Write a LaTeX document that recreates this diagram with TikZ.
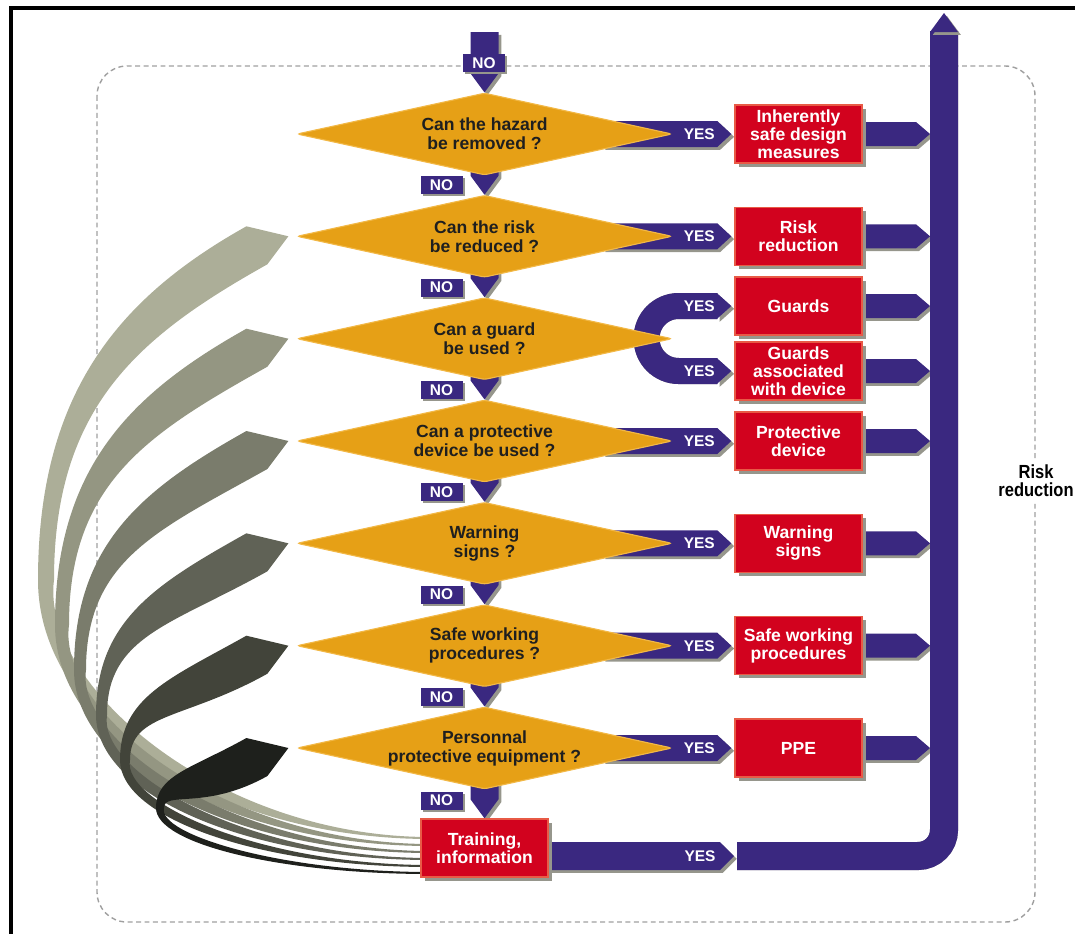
\documentclass[tikz,border=0pt]{standalone}
\usepackage{fontspec}
\setmainfont{Liberation Sans}
\newfontfamily\condfont[FakeStretch=0.87]{Liberation Sans}
\usetikzlibrary{shapes.geometric,calc,shadows,backgrounds}

\definecolor{diaorange}{RGB}{230,160,22}
\definecolor{diaedge}{RGB}{242,184,70}
\definecolor{bandpurple}{RGB}{58,40,128}
\definecolor{boxred}{RGB}{210,2,30}
\definecolor{boxedge}{RGB}{232,90,70}
\definecolor{shadowgrey}{RGB}{150,150,140}
\definecolor{grey2}{RGB}{172,174,152}
\definecolor{grey3}{RGB}{148,150,130}
\definecolor{grey4}{RGB}{122,124,108}
\definecolor{grey5}{RGB}{96,98,86}
\definecolor{grey6}{RGB}{66,68,58}
\definecolor{grey7}{RGB}{30,32,28}

\tikzset{
  dia/.style={diamond, aspect=4.57, minimum width=9.375cm, minimum height=2.05cm,
    inner sep=0pt, fill=diaorange, draw=diaedge, line width=0.8pt, rounded corners=2pt,
    align=center, text=black!88, font=\fontsize{12.5}{13.5}\selectfont\bfseries},
  redbox/.style={rectangle, minimum width=3.175cm, minimum height=1.45cm, inner sep=0pt,
    fill=boxred, draw=boxedge, line width=1pt, align=center, text=white,
    font=\fontsize{12.5}{12.8}\selectfont\bfseries,
    drop shadow={shadow xshift=2.5pt, shadow yshift=-2.5pt, fill=shadowgrey, opacity=1}},
  nolbl/.style={rectangle, minimum width=1.05cm, minimum height=0.45cm, inner sep=0pt,
    fill=bandpurple, text=white, font=\fontsize{11}{11}\selectfont\bfseries,
    drop shadow={shadow xshift=1.5pt, shadow yshift=-1.5pt, fill=shadowgrey, opacity=1}},
  yeslbl/.style={inner sep=0pt, text=white, font=\fontsize{11}{11}\selectfont\bfseries},
  risklbl/.style={fill=white, inner sep=3pt, align=center,
    font=\condfont\bfseries\fontsize{13.5}{12.8}\selectfont},
  band/.style={fill=bandpurple,
    drop shadow={shadow xshift=2pt, shadow yshift=-2pt, fill=shadowgrey, opacity=1}},
  framebox/.style={draw=gray!75, line width=1pt, dash pattern=on 3.5pt off 2.5pt,
    rounded corners=0.75cm},
}

\newcommand\noband[2]{%
  \fill[band] ($(#1)+(-14,-10)$) -- ($(#1)+(14,-10)$) -- ($(#2)+(14,-19)$) -- (#2)
    -- ($(#2)+(-14,-19)$) -- cycle;}
\newcommand\yesband[2]{%
  \fill[band] ($(#1.east)+(-70,-13)$) -- ($(#2.west)+(-17,-13)$) -- ($(#2.west)+(-3,0)$)
    -- ($(#2.west)+(-17,13)$) -- ($(#1.east)+(-70,13)$) -- cycle;}
\newcommand\outband[1]{%
  \fill[band] ($(#1.east)+(-2,-12)$) -- ($(#1.east -| bar)+(-28,-12)$)
    -- ($(#1.east -| bar)+(-14,0)$) -- ($(#1.east -| bar)+(-28,12)$)
    -- ($(#1.east)+(-2,12)$) -- cycle;}

\begin{document}
\begin{tikzpicture}[x=0.025cm, y=-0.025cm]
\useasboundingbox (0,0) rectangle (1075,934);

% frame
\draw[line width=3pt] (1075,8) -- (11,8) -- (11,934);

% questions
\node[dia] (d1) at (484.5,134) {Can the hazard\\be removed ?};
\node[dia] (d2) at (484.5,236.3) {Can the risk\\be reduced ?};
\node[dia] (d3) at (484.5,338.7) {Can a guard\\be used ?};
\node[dia] (d4) at (484.5,441) {Can a protective\\device be used ?};
\node[dia] (d5) at (484.5,543.3) {Warning\\signs ?};
\node[dia] (d6) at (484.5,645.7) {Safe working\\procedures ?};
\node[dia] (d7) at (484.5,748) {Personnal\\protective equipment ?};

% measures
\node[redbox] (r1) at (798.5,134) {Inherently\\safe design\\measures};
\node[redbox] (r2) at (798.5,236.3) {Risk\\reduction};
\node[redbox] (r3) at (798.5,306) {Guards};
\node[redbox] (r4) at (798.5,371) {Guards\\associated\\with device};
\node[redbox] (r5) at (798.5,441) {Protective\\device};
\node[redbox] (r6) at (798.5,543.3) {Warning\\signs};
\node[redbox] (r7) at (798.5,645.7) {Safe working\\procedures};
\node[redbox] (r8) at (798.5,748) {PPE};
\node[redbox] (train) at (484.5,848) {Training,\\information};

\node[risklbl] (risk) at (1036,481) {Risk\\reduction};

\coordinate (entry) at (484.5,42);
\coordinate (bar) at (944,13);
\coordinate (barbot) at (944,856);
\coordinate (barstart) at (737,856);

% labels
\node[nolbl] (no0) at (484,63) {NO};
\foreach \i [evaluate=\i as \j using int(\i+1)] in {1,...,6}
  \node[nolbl] (no\i) at ($(d\i.south)!0.5!(d\j.north)+(-43,0)$) {NO};
\node[nolbl] (no7) at ($(d7.south)+(-43,11)$) {NO};
\foreach \i in {1,...,8}
  \node[yeslbl] (yes\i) at ($(r\i.west)+(-35,0)$) {YES};
\node[yeslbl] (yes9) at ($(barstart)+(-37,0)$) {YES};

\begin{pgfonlayer}{background}
\draw[framebox] (97,66) rectangle (1035,922);

% loops back to the questions
\foreach \k/\xl/\yl/\w/\off/\col in {2/38/580/16/-10/grey2, 3/55/625/14/-3/grey3,
    4/74/670/12/4/grey4, 5/96/715/11/11/grey5, 6/120/760/10/18/grey6, 7/156/808/8/25/grey7}{
  \pgfmathsetmacro\yk{134+102.33*(\k-1)}
  \pgfmathsetmacro\da{0.6*(247-\xl)}
  \pgfmathsetmacro\db{0.55*(\yl-\yk)}
  \pgfmathsetmacro\dc{0.55*(848+\off-\yl)}
  \pgfmathsetmacro\dd{0.55*(430-\xl)}
  \pgfmathsetmacro\dap{0.6*(268-\xl-\w)}
  \pgfmathsetmacro\dbp{0.55*(\yl-\yk-28)}
  \pgfmathsetmacro\dcp{0.4*(848+\off-\yl)}
  \pgfmathsetmacro\ddp{0.55*(430-\xl)}
  \fill[\col] ($(d\k.west)+(-50,-10)$)
    .. controls ($(d\k.west)+({-50-\da},{-10+0.56*\da})$) and ({\xl},{\yl-\db}) .. ({\xl},{\yl})
    .. controls ({\xl},{\yl+\dc}) and ($(train.west)+({10-\dd},{\off+1})$) .. ($(train.west)+(10,{\off+1})$)
    -- ($(train.west)+(10,{\off-1})$)
    .. controls ($(train.west)+({10-\ddp},{\off-1})$) and ({\xl+0.15*\w},{\yl+\dcp}) .. ({\xl+\w},{\yl})
    .. controls ({\xl+\w},{\yl-\dbp}) and ($(d\k.west)+({-29-\dap},{28+0.56*\dap})$) .. ($(d\k.west)+(-29,28)$)
    -- ($(d\k.west)+(-8,0)$) -- cycle;
}

% NO arrows
\noband{entry}{d1.north}
\foreach \i [evaluate=\i as \j using int(\i+1)] in {1,...,6}
  {\noband{d\i.south}{d\j.north}}
\noband{d7.south}{train.north}

% YES arrows
\yesband{d1}{r1}
\yesband{d2}{r2}
\yesband{d4}{r5}
\yesband{d5}{r6}
\yesband{d6}{r7}
\yesband{d7}{r8}
\draw[line width=0.65cm, shadowgrey, rounded corners=0.8cm, shift={(2.5,2.5)}]
  ($(r3.west)+(-17,0)$) -- ($(r3.west -| d3.east)+(-26,0)$)
  -- ($(r4.west -| d3.east)+(-26,0)$) -- ($(r4.west)+(-17,0)$);
\draw[line width=0.65cm, bandpurple, rounded corners=0.8cm]
  ($(r3.west)+(-17,0)$) -- ($(r3.west -| d3.east)+(-26,0)$)
  -- ($(r4.west -| d3.east)+(-26,0)$) -- ($(r4.west)+(-17,0)$);
\foreach \r in {r3,r4}
  \fill[band] ($(\r.west)+(-17.5,-13)$) -- ($(\r.west)+(-3,0)$) -- ($(\r.west)+(-17.5,13)$) -- cycle;
\fill[band] ($(train.east |- barstart)+(-2,-14)$) -- ($(barstart)+(-17,-14)$) -- ($(barstart)+(-3,0)$)
  -- ($(barstart)+(-17,14)$) -- ($(train.east |- barstart)+(-2,14)$) -- cycle;

% risk reduction bar
\foreach \i in {1,...,8}
  {\outband{r\i}}
\draw[line width=0.7cm, shadowgrey, rounded corners=0.65cm, shift={(3,3)}]
  ($(bar)+(0,18)$) -- (barbot) -- (barstart);
\draw[line width=0.7cm, bandpurple, rounded corners=0.65cm]
  ($(bar)+(0,18)$) -- (barbot) -- (barstart);
\fill[band] ($(bar)+(-14,19)$) -- (bar) -- ($(bar)+(14,19)$) -- cycle;
\end{pgfonlayer}
\end{tikzpicture}
\end{document}
